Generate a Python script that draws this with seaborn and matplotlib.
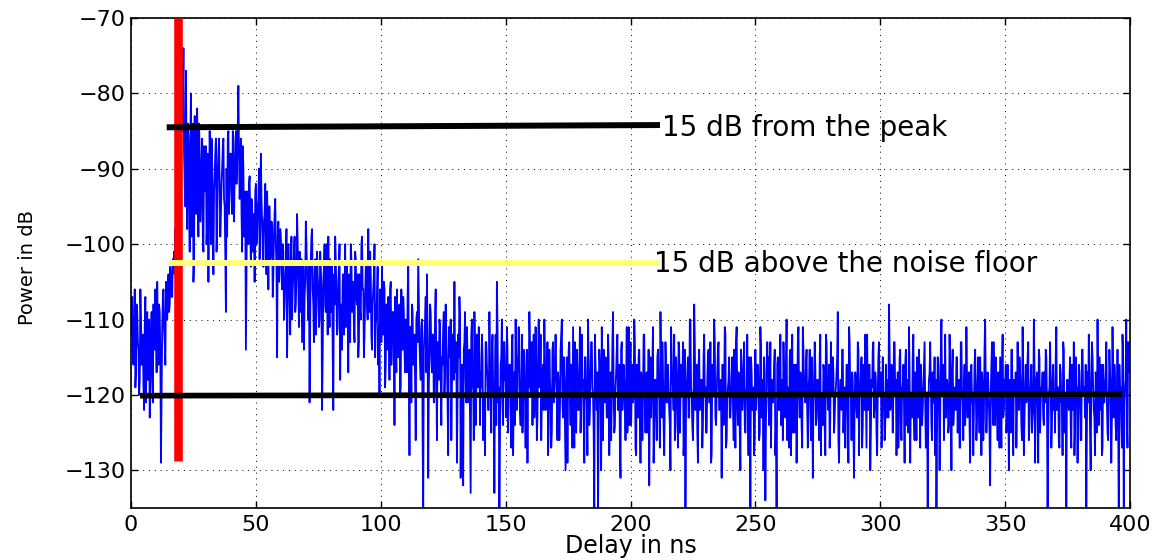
import numpy as np
import matplotlib
matplotlib.use("Agg")
import matplotlib.pyplot as plt
import seaborn as sns

# ---------------- data ----------------
SAMPLE_STEP_NS = 0.25  # delay resolution of the measured profile

# power delay profile (dB).
# "*_even" = samples at 0, 0.5, 1.0 ... ns ; "*_odd" = samples at 0.25, 0.75 ... ns
power_pre_arrival_even = [  # 0.0 .. 17.5 ns
    -112, -107, -116, -106, -117, -109, -114, -118, -110, -115,
    -119, -111, -121, -109, -116, -123, -112, -118, -108, -114,
    -110, -105, -116, -109, -129, -111, -106, -113, -105, -110,
    -104, -108, -105, -107, -103, -104,
]
power_pre_arrival_odd = [  # 0.25 .. 17.75 ns
    -109, -115, -111, -119, -108, -113, -120, -106, -116, -112,
    -122, -107, -114, -118, -110, -117, -109, -121, -113, -106,
    -117, -112, -108, -115, -120, -107, -111, -116, -108, -106,
    -109, -103, -107, -102, -101, -98,
]
power_main_lobe_even = [  # 18.0 .. 59.5 ns
    -100, -95, -88, -84, -80, -85, -74, -92, -77, -98,
    -86, -101, -80, -91, -105, -83, -96, -82, -99, -88,
    -94, -86, -101, -90, -87, -97, -105, -85, -100, -89,
    -104, -91, -86, -98, -88, -93, -96, -90, -86, -95,
    -109, -99, -85, -92, -88, -96, -86, -91, -85, -89,
    -79, -94, -86, -101, -90, -97, -114, -93, -100, -91,
    -103, -95, -98, -105, -92, -99, -94, -102, -88, -97,
    -103, -96, -100, -93, -106, -95, -101, -98, -104, -96,
    -100, -115, -97, -102,
]
power_main_lobe_odd = [  # 18.25 .. 59.75 ns
    -97, -91, -86, -82, -78, -82, -88, -95, -90, -84,
    -93, -87, -99, -84, -102, -90, -86, -95, -84, -97,
    -89, -99, -87, -93, -100, -88, -95, -90, -86, -97,
    -93, -88, -101, -90, -86, -99, -92, -87, -94, -101,
    -90, -86, -96, -88, -93, -85, -97, -89, -92, -84,
    -88, -91, -96, -87, -99, -93, -104, -97, -92, -98,
    -94, -101, -96, -93, -100, -95, -90, -98, -94, -101,
    -97, -92, -104, -98, -95, -102, -97, -107, -99, -94,
    -103, -99, -105, -98,
]
power_decay_even = [  # 60.0 .. 134.5 ns
    -99, -106, -101, -108, -103, -115, -100, -107, -102, -110,
    -104, -99, -108, -96, -105, -101, -109, -113, -103, -107,
    -97, -104, -110, -121, -102, -98, -108, -104, -112, -101,
    -106, -110, -103, -122, -105, -100, -109, -104, -99, -111,
    -106, -103, -122, -108, -102, -112, -105, -100, -109, -114,
    -104, -107, -111, -103, -117, -106, -100, -109, -105, -113,
    -102, -108, -115, -104, -110, -99, -106, -112, -103, -108,
    -98, -109, -104, -114, -106, -100, -111, -107, -116, -120,
    -108, -103, -112, -106, -116, -110, -107, -118, -105, -113,
    -109, -124, -111, -106, -115, -108, -119, -112, -107, -114,
    -110, -117, -103, -128, -111, -108, -116, -112, -126, -109,
    -102, -113, -118, -110, -135, -112, -107, -104, -131, -114,
    -109, -117, -112, -120, -106, -126, -113, -110, -118, -115,
    -111, -120, -108, -116, -128, -113, -110, -119, -114, -105,
    -117, -129, -112, -107, -131, -116, -132, -113, -118, -111,
]
power_decay_odd = [  # 60.25 .. 134.75 ns
    -104, -100, -110, -105, -98, -107, -103, -112, -99, -106,
    -101, -109, -104, -100, -111, -106, -102, -108, -114, -105,
    -100, -107, -103, -110, -99, -106, -113, -102, -108, -104,
    -111, -101, -106, -115, -103, -108, -100, -112, -106, -102,
    -109, -114, -104, -99, -107, -111, -103, -118, -108, -105,
    -112, -100, -106, -109, -104, -113, -102, -108, -111, -101,
    -107, -104, -113, -109, -100, -106, -115, -107, -103, -110,
    -105, -101, -112, -108, -104, -115, -109, -103, -111, -106,
    -113, -110, -105, -119, -108, -114, -111, -106, -116, -109,
    -112, -107, -117, -113, -110, -120, -106, -114, -109, -117,
    -113, -107, -115, -111, -121, -109, -114, -118, -110, -113,
    -108, -116, -111, -125, -114, -110, -117, -112, -119, -108,
    -115, -112, -121, -109, -116, -113, -118, -111, -124, -116,
    -109, -117, -113, -121, -111, -115, -126, -112, -118, -116,
    -113, -120, -115, -110, -118, -124, -114, -109, -121, -115,
]
power_noise_floor_even = [  # 135.0 .. 400.0 ns
    -121, -114, -133, -110, -118, -109, -124, -112, -119, -115,
    -117, -112, -126, -120, -113, -116, -122, -109, -118, -114,
    -119, -133, -112, -105, -121, -135, -116, -110, -124, -113,
    -118, -111, -125, -116, -120, -113, -128, -117, -110, -122,
    -115, -119, -124, -112, -121, -118, -127, -114, -116, -109,
    -120, -113, -117, -123, -111, -126, -115, -119, -112, -121,
    -116, -110, -122, -118, -128, -114, -120, -125, -113, -119,
    -112, -121, -117, -126, -114, -110, -123, -118, -130, -115,
    -119, -113, -124, -116, -111, -127, -120, -114, -122, -117,
    -125, -112, -118, -129, -115, -121, -110, -124, -117, -113,
    -120, -136, -116, -122, -136, -114, -119, -111, -126, -118,
    -115, -123, -112, -128, -117, -121, -109, -125, -119, -114,
    -122, -116, -131, -113, -120, -118, -126, -111, -117, -124,
    -113, -119, -121, -110, -127, -116, -123, -114, -129, -118,
    -120, -112, -125, -117, -121, -132, -115, -119, -111, -124,
    -118, -126, -114, -120, -109, -123, -117, -128, -113, -121,
    -116, -122, -130, -115, -119, -112, -124, -118, -127, -114,
    -121, -117, -113, -125, -136, -119, -115, -123, -110, -120,
    -126, -108, -122, -116, -129, -114, -120, -118, -124, -112,
    -119, -125, -115, -121, -113, -128, -117, -110, -123, -120,
    -114, -122, -118, -131, -116, -120, -112, -126, -119, -115,
    -123, -117, -121, -114, -127, -111, -124, -118, -130, -116,
    -120, -113, -125, -119, -122, -115, -135, -117, -121, -128,
    -114, -120, -116, -126, -111, -123, -118, -115, -134, -121,
    -117, -124, -113, -119, -121, -116, -128, -136, -115, -122,
    -112, -120, -126, -118, -123, -110, -119, -127, -114, -121,
    -125, -116, -122, -129, -113, -120, -117, -124, -111, -119,
    -121, -114, -127, -118, -122, -115, -131, -119, -116, -123,
    -118, -126, -112, -120, -124, -117, -128, -113, -121, -116,
    -123, -119, -115, -125, -120, -117, -109, -129, -118, -122,
    -114, -121, -127, -116, -123, -111, -120, -126, -118, -131,
    -117, -122, -113, -128, -119, -115, -124, -120, -112, -127,
    -121, -116, -130, -118, -114, -123, -117, -125, -120, -113,
    -119, -127, -115, -121, -124, -123, -118, -108, -122, -116,
    -125, -113, -120, -128, -117, -122, -114, -126, -119, -121,
    -116, -124, -118, -111, -129, -120, -115, -123, -117, -126,
    -120, -114, -127, -119, -122, -116, -121, -125, -136, -118,
    -113, -124, -117, -121, -128, -136, -115, -120, -123, -110,
    -118, -126, -112, -121, -119, -124, -116, -130, -114, -122,
    -120, -115, -125, -118, -127, -113, -121, -119, -124, -111,
    -123, -117, -129, -116, -120, -122, -114, -126, -118, -121,
    -115, -128, -119, -123, -110, -125, -117, -121, -132, -116,
    -121, -113, -124, -118, -126, -120, -115, -127, -112, -122,
    -119, -125, -116, -130, -121, -114, -123, -118, -120, -127,
    -113, -122, -117, -124, -111, -128, -119, -121, -115, -126,
    -120, -116, -123, -110, -129, -118, -122, -114, -125, -119,
    -117, -124, -121, -115, -136, -120, -113, -127, -118, -122,
    -125, -111, -119, -126, -116, -121, -128, -114, -123, -136,
    -118, -122, -115, -127, -120, -113, -124, -119, -129, -116,
    -121, -126, -114, -120, -123, -136, -117, -112, -125, -119,
    -115, -122, -128, -118, -110, -124, -120, -116, -127, -121,
    -119, -113, -125, -121, -117, -129, -111, -123, -118, -126,
    -114, -136, -120, -124, -112, -136, -119, -110, -127, -116,
    -113,
]
power_noise_floor_odd = [  # 135.25 .. 399.75 ns
    -116, -123, -112, -119, -126, -114, -120, -117, -111, -124,
    -119, -115, -121, -128, -113, -118, -122, -116, -125, -112,
    -120, -117, -124, -111, -119, -126, -115, -121, -113, -118,
    -123, -114, -119, -116, -127, -112, -120, -124, -118, -115,
    -111, -122, -117, -125, -114, -120, -116, -129, -119, -113,
    -118, -124, -112, -120, -116, -123, -110, -119, -126, -117,
    -122, -115, -120, -113, -124, -118, -127, -114, -121, -116,
    -117, -126, -119, -122, -112, -121, -115, -124, -118, -129,
    -114, -120, -116, -127, -119, -113, -125, -117, -122, -111,
    -121, -118, -124, -115, -120, -128, -116, -122, -113, -119,
    -125, -112, -119, -117, -123, -116, -130, -118, -114, -121,
    -118, -123, -115, -120, -126, -113, -119, -124, -117, -112,
    -120, -127, -114, -122, -116, -121, -118, -125, -111, -119,
    -124, -116, -120, -113, -128, -119, -115, -122, -117, -126,
    -112, -121, -118, -125, -114, -120, -123, -116, -129, -118,
    -122, -115, -119, -127, -117, -113, -124, -120, -116, -121,
    -119, -124, -111, -118, -122, -126, -115, -120, -113, -125,
    -116, -120, -128, -114, -121, -117, -123, -110, -119, -124,
    -121, -113, -119, -125, -116, -122, -118, -127, -115, -120,
    -125, -118, -114, -121, -129, -116, -120, -113, -124, -117,
    -113, -122, -119, -116, -124, -111, -127, -120, -118, -123,
    -120, -115, -126, -119, -113, -121, -117, -125, -114, -122,
    -117, -124, -120, -112, -128, -118, -115, -122, -119, -126,
    -122, -116, -119, -125, -114, -121, -130, -117, -123, -113,
    -115, -121, -127, -118, -120, -114, -124, -116, -122, -119,
    -124, -118, -113, -122, -117, -126, -120, -115, -128, -112,
    -119, -125, -116, -121, -111, -123, -118, -127, -114, -120,
    -116, -122, -119, -114, -126, -117, -121, -113, -124, -118,
    -121, -115, -128, -120, -116, -124, -112, -119, -122, -127,
    -113, -120, -117, -123, -119, -115, -126, -121, -118, -114,
    -125, -119, -122, -116, -129, -113, -120, -117, -124, -121,
    -118, -123, -114, -120, -117, -127, -116, -122, -119, -112,
    -122, -116, -125, -119, -113, -121, -118, -128, -115, -120,
    -117, -124, -120, -126, -116, -119, -123, -114, -121, -118,
    -120, -113, -118, -122, -127, -115, -124, -119, -116, -129,
    -114, -121, -125, -117, -120, -123, -112, -126, -119, -115,
    -123, -118, -116, -124, -119, -113, -127, -120, -122, -117,
    -119, -126, -121, -115, -118, -124, -116, -130, -114, -120,
    -116, -120, -123, -118, -125, -112, -121, -117, -124, -119,
    -122, -115, -119, -127, -113, -120, -126, -116, -121, -118,
    -118, -124, -117, -121, -128, -116, -119, -123, -115, -125,
    -120, -117, -126, -114, -119, -122, -118, -125, -120, -113,
    -124, -119, -115, -122, -117, -127, -121, -116, -123, -118,
    -116, -123, -120, -118, -125, -114, -128, -119, -117, -122,
    -121, -115, -119, -126, -118, -123, -116, -120, -113, -124,
    -118, -125, -122, -116, -120, -117, -129, -115, -121, -119,
    -123, -117, -114, -121, -126, -119, -118, -124, -116, -120,
    -115, -122, -119, -127, -117, -121, -113, -125, -120, -118,
    -120, -118, -124, -116, -122, -128, -115, -119, -123, -117,
    -126, -114, -120, -119, -116, -124, -121, -117, -130, -113,
    -119, -123, -117, -125, -120, -115, -122, -128, -116, -121,
    -117, -121, -126, -114, -119, -123, -118, -116, -124, -120,
    -122, -116, -119, -127, -115, -121, -118, -124, -113, -117,
]

# threshold / marker lines
first_arrival_x = [18.9, 18.9]
first_arrival_y = [-128.7, -70.0]
peak_thr_x = [14.3, 211.8]
peak_thr_y = [-84.5, -84.2]
noise_thr_x = [15.2, 211.8]
noise_thr_y = [-102.5, -102.5]
noise_floor_x = [3.6, 397.0]
noise_floor_y = [-120.1, -119.9]

label_peak = "15 dB from the peak"
label_noise = "15 dB above the noise floor"
x_ticks = [0, 50, 100, 150, 200, 250, 300, 350, 400]
y_ticks = [-130, -120, -110, -100, -90, -80, -70]

# ---------------- plot ----------------
sns.set_theme(style="white")
plt.rcParams["font.family"] = ["DejaVu Sans"]
plt.rcParams["text.color"] = "black"
plt.rcParams["axes.labelcolor"] = "black"
plt.rcParams["xtick.color"] = "black"
plt.rcParams["ytick.color"] = "black"

even = np.array(power_pre_arrival_even + power_main_lobe_even
                + power_decay_even + power_noise_floor_even, dtype=float)
odd = np.array(power_pre_arrival_odd + power_main_lobe_odd
               + power_decay_odd + power_noise_floor_odd, dtype=float)
power = np.empty(len(even) + len(odd))
power[0::2] = even
power[1::2] = odd
delay = np.arange(len(power)) * SAMPLE_STEP_NS

fig = plt.figure(figsize=(11.64, 5.6), dpi=100)
ax = fig.add_axes([131 / 1164, 1 - 508 / 560, (1130 - 131) / 1164, (508 - 18) / 560])

sns.lineplot(x=delay, y=power, ax=ax, color="#0000ff", linewidth=1.3,
             estimator=None, sort=False, zorder=2)
sns.lineplot(x=first_arrival_x, y=first_arrival_y, ax=ax, color="#ff0000",
             linewidth=6.2, estimator=None, sort=False, zorder=3,
             solid_capstyle="butt")
sns.lineplot(x=peak_thr_x, y=peak_thr_y, ax=ax, color="black",
             linewidth=4.3, estimator=None, sort=False, zorder=4,
             solid_capstyle="butt")
sns.lineplot(x=noise_thr_x, y=noise_thr_y, ax=ax, color="#ffff7a",
             linewidth=4.3, estimator=None, sort=False, zorder=4,
             solid_capstyle="butt")
sns.lineplot(x=noise_floor_x, y=noise_floor_y, ax=ax, color="black",
             linewidth=4.1, estimator=None, sort=False, zorder=4,
             solid_capstyle="butt")

ax.text(212.5, -85.7, label_peak, fontsize=20, color="black",
        ha="left", va="baseline", zorder=5)
ax.text(209.5, -103.7, label_noise, fontsize=20, color="black",
        ha="left", va="baseline", zorder=5)

ax.set_xlim(0, 400)
ax.set_ylim(-135, -70)
ax.set_xticks(x_ticks)
ax.set_yticks(y_ticks)
ax.set_xticklabels([str(v) for v in x_ticks])
ax.set_yticklabels(["\u2212" + str(abs(v)) for v in y_ticks])

ax.grid(True, color="black", linestyle=(0, (1, 5)), linewidth=0.7, zorder=0)
ax.set_axisbelow(True)
for s in ax.spines.values():
    s.set_visible(True)
    s.set_color("black")
    s.set_linewidth(1.2)
ax.tick_params(axis="both", which="major", direction="in", length=5, width=1,
               top=True, right=True, bottom=True, left=True,
               labelsize=16, colors="black")
ax.tick_params(axis="x", pad=5)
ax.tick_params(axis="y", pad=4)

ax.set_xlabel("Delay in ns", fontsize=17, labelpad=-1, color="black")
ax.set_ylabel("Power in dB", fontsize=14, va="center", color="black")
ax.yaxis.set_label_coords(-0.1036, 0.49)

fig.savefig("out.png", dpi=100, facecolor="white")
